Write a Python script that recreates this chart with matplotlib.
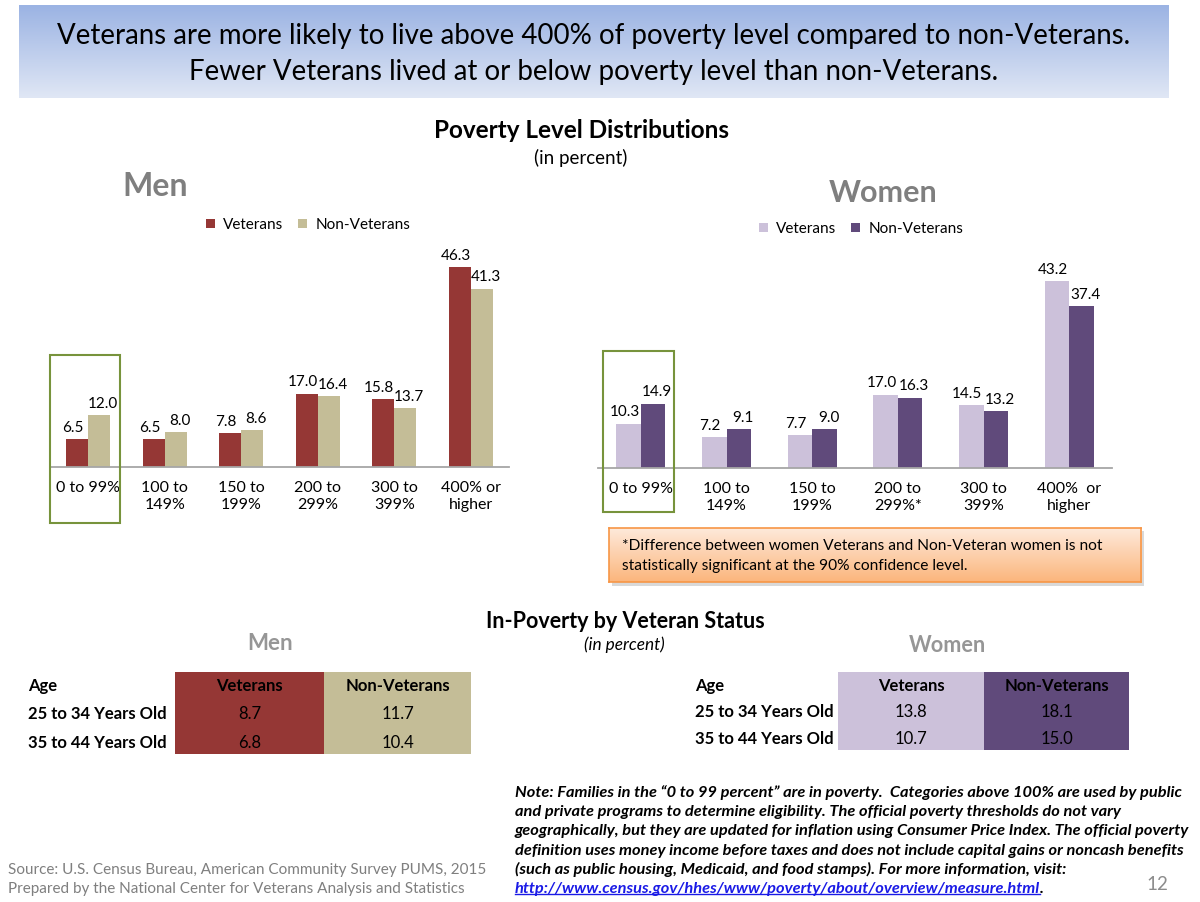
import matplotlib

matplotlib.use("Agg")

import matplotlib.pyplot as plt
import numpy as np
from matplotlib.colors import to_rgb
from matplotlib.patches import Rectangle

plt.rcParams["font.family"] = ["Lato", "DejaVu Sans"]

W, H = 1200, 902

# bar chart data (percent)
categories_men = ["0 to 99%", "100 to\n149%", "150 to\n199%", "200 to\n299%", "300 to\n399%", "400% or\nhigher"]
categories_women = ["0 to 99%", "100 to\n149%", "150 to\n199%", "200 to\n299%*", "300 to\n399%", "400%  or\nhigher"]
men_veterans = [6.5, 6.5, 7.8, 17.0, 15.8, 46.3]
men_non_veterans = [12.0, 8.0, 8.6, 16.4, 13.7, 41.3]
women_veterans = [10.3, 7.2, 7.7, 17.0, 14.5, 43.2]
women_non_veterans = [14.9, 9.1, 9.0, 16.3, 13.2, 37.4]

# in-poverty tables (percent)
age_groups = ["25 to 34 Years Old", "35 to 44 Years Old"]
men_poverty_vet = [8.7, 6.8]
men_poverty_nonvet = [11.7, 10.4]
women_poverty_vet = [13.8, 10.7]
women_poverty_nonvet = [18.1, 15.0]

MEN_COLORS = ("#953735", "#c4bd97")
WOMEN_COLORS = ("#ccc1da", "#604a7b")
GREEN = "#77933c"

note_lines = [
    "Note: Families in the \u201c0 to 99 percent\u201d are in poverty.  Categories above 100% are used by public",
    "and private programs to determine eligibility. The official poverty thresholds do not vary",
    "geographically, but they are updated for inflation using Consumer Price Index. The official poverty",
    "definition uses money income before taxes and does not include capital gains or noncash benefits",
    "(such as public housing, Medicaid, and food stamps). For more information, visit:",
]
note_link = "http://www.census.gov/hhes/www/poverty/about/overview/measure.html"
source_lines = [
    "Source: U.S. Census Bureau, American Community Survey PUMS, 2015",
    "Prepared by the National Center for Veterans Analysis and Statistics",
]


def fx(x):
    return x / W


def fy(y):
    return 1 - y / H


def px_axes(fig, left, top, right, bottom, **kw):
    return fig.add_axes([fx(left), fy(bottom), (right - left) / W, (bottom - top) / H], **kw)


def rect(fig, left, top, right, bottom, **kw):
    fig.add_artist(Rectangle((fx(left), fy(bottom)), (right - left) / W, (bottom - top) / H,
                             transform=fig.transFigure, **kw))


def text(fig, x, y, s, **kw):
    kw.setdefault("va", "center")
    return fig.text(fx(x), fy(y), s, **kw)


def gradient_panel(fig, left, top, right, bottom, c_top, c_bottom, edge=None):
    ax = px_axes(fig, left, top, right, bottom)
    t = np.linspace(0, 1, 256)[:, None]
    img = (1 - t) * np.array(to_rgb(c_top)) + t * np.array(to_rgb(c_bottom))
    ax.imshow(img[:, None, :], aspect="auto", extent=(0, 1, 0, 1))
    ax.set_xticks([])
    ax.set_yticks([])
    for s in ax.spines.values():
        if edge:
            s.set_color(edge)
            s.set_linewidth(1.2)
        else:
            s.set_visible(False)
    return ax


def bar_panel(fig, left, right, baseline, cats, vet, nonvet, colors, legend_xy):
    ymax = 55
    ax = fig.add_axes([fx(left), fy(baseline), (right - left) / W, ymax * 4.32 / H])
    x = np.arange(len(cats))
    w = 0.285
    ax.bar(x - w / 2, vet, w, color=colors[0], label="Veterans")
    ax.bar(x + w / 2, nonvet, w, color=colors[1], label="Non-Veterans")
    # value labels nudged apart a little, the way the slide has them
    for xs, vals, dx in ((x - w / 2, vet, -3), (x + w / 2, nonvet, 3)):
        for xi, v in zip(xs, vals):
            ax.annotate(f"{v:.1f}", (xi, v), xytext=(dx, 3), textcoords="offset points",
                        ha="center", va="bottom", fontsize=11)
    ax.set_xlim(-0.5, len(cats) - 0.5)
    ax.set_ylim(0, ymax)
    for s in ("left", "right", "top"):
        ax.spines[s].set_visible(False)
    ax.spines["bottom"].set_color("#a6a6a6")
    ax.spines["bottom"].set_linewidth(1.3)
    ax.set_yticks([])
    ax.set_xticks(x, cats)
    ax.tick_params(axis="x", length=0, pad=10, labelsize=11.5)
    for lbl in ax.get_xticklabels():
        lbl.set_linespacing(1.3)
    ax.patch.set_alpha(0)
    ax.legend(loc="center", bbox_to_anchor=(fx(legend_xy[0]), fy(legend_xy[1])),
              bbox_transform=fig.transFigure, ncol=2, frameon=False, fontsize=11,
              handlelength=0.6, handleheight=0.6, handletextpad=0.5, columnspacing=1.0)
    return ax


def poverty_table(fig, label_x, cols, top, bottom, row_ys, vet, nonvet, colors):
    rect(fig, cols[0], top, cols[1], bottom, color=colors[0], lw=0)
    rect(fig, cols[1], top, cols[2], bottom, color=colors[1], lw=0)
    c_vet = (cols[0] + cols[1]) / 2
    c_non = (cols[1] + cols[2]) / 2
    text(fig, label_x, row_ys[0], "Age", fontsize=12, fontweight="bold")
    text(fig, c_vet, row_ys[0], "Veterans", fontsize=12, fontweight="bold", ha="center")
    text(fig, c_non, row_ys[0], "Non-Veterans", fontsize=12, fontweight="bold", ha="center")
    for y, age, v, n in zip(row_ys[1:], age_groups, vet, nonvet):
        text(fig, label_x, y, age, fontsize=12, fontweight="bold")
        text(fig, c_vet, y, f"{v:.1f}", fontsize=12, ha="center")
        text(fig, c_non, y, f"{n:.1f}", fontsize=12, ha="center")


fig = plt.figure(figsize=(W / 100, H / 100), dpi=100)

# headline banner
gradient_panel(fig, 19, 5, 1169, 98, "#9bb3e3", "#e0e7f5")
text(fig, 594, 36, "Veterans are more likely to live above 400% of poverty level compared to non-Veterans.",
     fontsize=19.9, ha="center")
text(fig, 594, 72, "Fewer Veterans lived at or below poverty level than non-Veterans.",
     fontsize=19.9, ha="center")

text(fig, 581, 131, "Poverty Level Distributions", fontsize=17.5, fontweight="bold", ha="center")
text(fig, 581, 158, "(in percent)", fontsize=13.5, ha="center")
text(fig, 155, 187, "Men", fontsize=23, fontweight="bold", color="#7f7f7f", ha="center")
text(fig, 883, 193, "Women", fontsize=22, fontweight="bold", color="#7f7f7f", ha="center")

bar_panel(fig, 50, 509, 467, categories_men, men_veterans, men_non_veterans, MEN_COLORS, (308, 225))
bar_panel(fig, 598, 1112, 468, categories_women, women_veterans, women_non_veterans, WOMEN_COLORS, (861, 229))

# green frames around the in-poverty category
rect(fig, 50, 355, 120, 523, fill=False, ec=GREEN, lw=1.5)
rect(fig, 603, 351, 674, 512, fill=False, ec=GREEN, lw=1.5)

# footnote box with a soft shadow
rect(fig, 612, 531, 1144, 586, color="#d9d9d9", lw=0, zorder=-1)
gradient_panel(fig, 609, 528, 1141, 582, "#feeadb", "#fbb57c", edge="#f79646")
text(fig, 622, 546, "*Difference between women Veterans and Non-Veteran women is not", fontsize=11.2)
text(fig, 622, 566, "statistically significant at the 90% confidence level.", fontsize=11.2)

# in-poverty tables
text(fig, 625, 622, "In-Poverty by Veteran Status", fontsize=15.5, fontweight="bold", ha="center")
text(fig, 624, 645, "(in percent)", fontsize=12.4, style="italic", ha="center")
text(fig, 270, 643, "Men", fontsize=16, fontweight="bold", color="#969696", ha="center")
text(fig, 947, 645, "Women", fontsize=15.6, fontweight="bold", color="#969696", ha="center")
poverty_table(fig, 28, (175, 324, 471), 672, 754, (686, 714, 743),
              men_poverty_vet, men_poverty_nonvet, MEN_COLORS)
poverty_table(fig, 695, (838, 984, 1129), 672, 750, (686, 712, 739),
              women_poverty_vet, women_poverty_nonvet, WOMEN_COLORS)

# note and source
NOTE_SIZE = 11.8
for i, line in enumerate(note_lines):
    text(fig, 515, 793 + i * 19.2, line, fontsize=NOTE_SIZE, fontweight="bold", style="italic")
link = text(fig, 515, 793 + 5 * 19.2, note_link, fontsize=NOTE_SIZE, fontweight="bold", style="italic",
            color="#1a1ae6")
fig.canvas.draw()
bb = link.get_window_extent().transformed(fig.transFigure.inverted())
fig.add_artist(plt.Line2D([bb.x0, bb.x1], [bb.y0 + 0.002, bb.y0 + 0.002], color="#1a1ae6",
                          lw=1, transform=fig.transFigure))
fig.text(bb.x1, fy(793 + 5 * 19.2), ".", fontsize=NOTE_SIZE, fontweight="bold", style="italic", va="center")

for i, line in enumerate(source_lines):
    text(fig, 8, 870 + i * 19, line, fontsize=11, color="#7f7f7f")
text(fig, 1157, 885, "12", fontsize=13.5, color="#8c8c8c", ha="center")

fig.savefig("out.png", dpi=100)
